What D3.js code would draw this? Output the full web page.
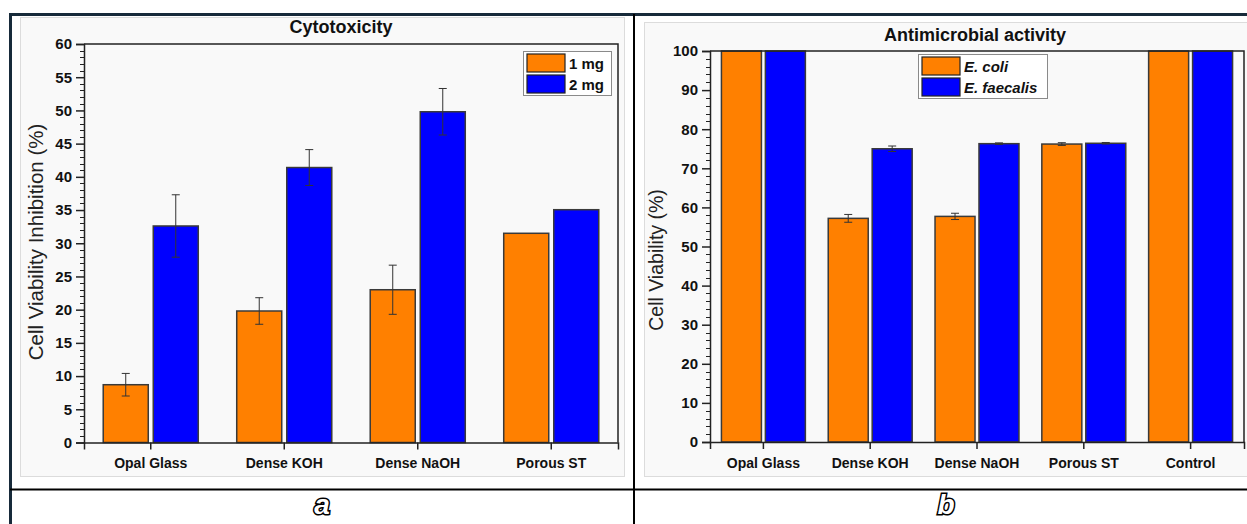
<!DOCTYPE html>
<html>
<head>
<meta charset="utf-8">
<script src="https://cdn.jsdelivr.net/npm/d3@7"></script>
<style>
  html, body { margin: 0; padding: 0; background: #ffffff; }
  svg { display: block; }
  text { font-family: "Liberation Sans", Arial, sans-serif; }
</style>
</head>
<body>
<svg id="fig" width="1247" height="524"></svg>
<script>
// ---- Panel (a): cytotoxicity ----
const cytoCategories = ["Opal Glass", "Dense KOH", "Dense NaOH", "Porous ST"];
const cytoSeries = ["1 mg", "2 mg"];
const cyto1mg = [8.7, 19.8, 23.0, 31.5];
const cyto2mg = [32.6, 41.4, 49.8, 35.05];
const cyto1mgErr = [1.7, 2.0, 3.7, 0];
const cyto2mgErr = [4.7, 2.7, 3.5, 0];
const cytoTicks = [0, 5, 10, 15, 20, 25, 30, 35, 40, 45, 50, 55, 60];

// ---- Panel (b): antimicrobial activity ----
const microCategories = ["Opal Glass", "Dense KOH", "Dense NaOH", "Porous ST", "Control"];
const microSeries = ["E. coli", "E. faecalis"];
const microEcoli = [100, 57.2, 57.7, 76.2, 100];
const microFaecalis = [100, 75.0, 76.3, 76.4, 100];
const microEcoliErr = [0, 1.0, 0.8, 0.35, 0];
const microFaecalisErr = [0, 0.7, 0.2, 0.2, 0];
const microTicks = [0, 10, 20, 30, 40, 50, 60, 70, 80, 90, 100];

const seriesColors = ["#ff8000", "#0000ff"];
const svg = d3.select("#fig");

// outer frame of the figure
const frame = svg.append("g");
frame.append("line").attr("x1", 10).attr("x2", 1247).attr("y1", 14.5).attr("y2", 14.5)
  .attr("stroke", "#172a3a").attr("stroke-width", 3);
frame.append("line").attr("x1", 10.5).attr("x2", 10.5).attr("y1", 13).attr("y2", 524)
  .attr("stroke", "#172a3a").attr("stroke-width", 3);
frame.append("line").attr("x1", 634).attr("x2", 634).attr("y1", 14).attr("y2", 524)
  .attr("stroke", "#000").attr("stroke-width", 2);
frame.append("line").attr("x1", 10).attr("x2", 1247).attr("y1", 489.5).attr("y2", 489.5)
  .attr("stroke", "#000").attr("stroke-width", 2);

// panel backgrounds
svg.append("rect").attr("x", 20.5).attr("y", 17.5).attr("width", 604).attr("height", 459)
  .attr("fill", "#f9f9f9").attr("stroke", "#dcdcdc");
svg.append("rect").attr("x", 644.5).attr("y", 22.5).attr("width", 610).attr("height", 454)
  .attr("fill", "#f9f9f9").attr("stroke", "#dcdcdc");

function drawPanel(opts) {
  const g = svg.append("g");
  const { left, right, top, bottom } = opts;

  const x = d3.scaleBand().domain(opts.categories).range([left, right]).padding(0);
  const bw = x.bandwidth();
  const x1 = d3.scaleBand().domain(opts.series)
    .range([bw * opts.groupInset, bw * (1 - opts.groupInset)])
    .paddingInner(opts.barGap);
  const y = d3.scaleLinear().domain([0, opts.yMax]).range([bottom, top]);

  // bars
  opts.values.forEach((vals, si) => {
    g.append("g").selectAll("rect").data(vals).join("rect")
      .attr("x", (d, i) => x(opts.categories[i]) + x1(opts.series[si]))
      .attr("y", d => y(d))
      .attr("width", x1.bandwidth())
      .attr("height", d => y(0) - y(d))
      .attr("fill", seriesColors[si])
      .attr("stroke", "#3a3a3a")
      .attr("stroke-width", 1.5);
  });

  // error bars
  opts.errors.forEach((errs, si) => {
    const eg = g.append("g").attr("stroke", "#333").attr("stroke-width", 1);
    errs.forEach((e, i) => {
      if (!e) return;
      const v = opts.values[si][i];
      const cx = x(opts.categories[i]) + x1(opts.series[si]) + x1.bandwidth() / 2;
      eg.append("line").attr("x1", cx).attr("x2", cx).attr("y1", y(v - e)).attr("y2", y(v + e));
      [v - e, v + e].forEach(t => eg.append("line")
        .attr("x1", cx - 4).attr("x2", cx + 4).attr("y1", y(t)).attr("y2", y(t)));
    });
  });

  // frame of the plot area
  g.append("path")
    .attr("d", `M${left},${top}H${right}V${bottom}`)
    .attr("fill", "none").attr("stroke", "#222").attr("stroke-width", 1.5);

  // minor y ticks
  const minor = d3.range(0, opts.yMax + 1e-9, opts.minorStep)
    .filter(v => opts.ticks.indexOf(v) < 0);
  g.append("g").selectAll("line").data(minor).join("line")
    .attr("x1", left - 4).attr("x2", left)
    .attr("y1", d => Math.round(y(d)) + 0.5).attr("y2", d => Math.round(y(d)) + 0.5)
    .attr("stroke", "#222").attr("stroke-width", 1);

  // y axis
  const yAxis = g.append("g").attr("transform", `translate(${left},0)`)
    .call(d3.axisLeft(y).tickValues(opts.ticks).tickSize(8).tickPadding(4).tickFormat(d3.format("d")));
  yAxis.select(".domain").attr("stroke", "#222").attr("stroke-width", 1.5);
  yAxis.selectAll(".tick line").attr("stroke", "#222").attr("stroke-width", 1.5);
  yAxis.selectAll("text").attr("font-size", 15).attr("font-weight", "bold").attr("fill", "#111");

  // x axis
  const xAxis = g.append("g").attr("transform", `translate(0,${bottom})`)
    .call(d3.axisBottom(x).tickSize(7).tickPadding(9));
  xAxis.select(".domain").attr("stroke", "#222").attr("stroke-width", 1.5);
  xAxis.selectAll(".tick line").attr("stroke", "#222").attr("stroke-width", 1.5);
  xAxis.selectAll("text").attr("font-size", 14).attr("font-weight", "bold").attr("fill", "#111");

  // titles
  g.append("text").attr("x", opts.titleX).attr("y", opts.titleY)
    .attr("text-anchor", "middle").attr("font-size", 18).attr("font-weight", "bold")
    .attr("fill", "#111").text(opts.title);
  g.append("text")
    .attr("transform", `translate(${opts.yLabelX},${opts.yLabelY}) rotate(-90)`)
    .attr("text-anchor", "middle").attr("font-size", opts.yLabelSize).attr("fill", "#222")
    .text(opts.yLabel);

  // legend
  const lg = g.append("g").attr("transform", `translate(${opts.legend.x},${opts.legend.y})`);
  lg.append("rect").attr("x", 0.5).attr("y", 0.5)
    .attr("width", opts.legend.w).attr("height", 44)
    .attr("fill", "#fff").attr("stroke", "#8a8a8a").attr("stroke-width", 1);
  opts.series.forEach((s, i) => {
    lg.append("rect").attr("x", 4).attr("y", 3 + i * 21)
      .attr("width", opts.legend.sw).attr("height", 18)
      .attr("fill", seriesColors[i]).attr("stroke", "#222").attr("stroke-width", 1.2);
    lg.append("text").attr("x", opts.legend.sw + 8).attr("y", 17.5 + i * 21)
      .attr("font-size", 15).attr("font-weight", "bold")
      .attr("font-style", opts.legend.italic ? "italic" : "normal")
      .attr("fill", "#111").text(s);
  });
}

drawPanel({
  left: 84, right: 618, top: 44, bottom: 442.5,
  categories: cytoCategories, series: cytoSeries,
  values: [cyto1mg, cyto2mg], errors: [cyto1mgErr, cyto2mgErr],
  yMax: 60, ticks: cytoTicks, minorStep: 1,
  groupInset: 0.144, barGap: 0.1,
  title: "Cytotoxicity", titleX: 341, titleY: 33,
  yLabel: "Cell Viability Inhibition (%)", yLabelX: 43, yLabelY: 242, yLabelSize: 20.5,
  legend: { x: 523, y: 51, w: 88, sw: 38, italic: false }
});

drawPanel({
  left: 710, right: 1244, top: 51, bottom: 442,
  categories: microCategories, series: microSeries,
  values: [microEcoli, microFaecalis], errors: [microEcoliErr, microFaecalisErr],
  yMax: 100, ticks: microTicks, minorStep: 2,
  groupInset: 0.107, barGap: 0.09,
  title: "Antimicrobial activity", titleX: 975, titleY: 41,
  yLabel: "Cell Viability (%)", yLabelX: 663, yLabelY: 260, yLabelSize: 19.5,
  legend: { x: 918, y: 54, w: 129, sw: 38, italic: true }
});

// panel letters
[["a", 322], ["b", 946]].forEach(([t, cx]) => {
  svg.append("text").attr("x", cx).attr("y", 514)
    .attr("text-anchor", "middle").attr("font-family", "DejaVu Sans")
    .attr("font-size", 28).attr("font-style", "italic").attr("font-weight", "bold")
    .attr("fill", "#fff").attr("stroke", "#000").attr("stroke-width", 3)
    .attr("paint-order", "stroke")
    .text(t);
});
</script>
</body>
</html>
